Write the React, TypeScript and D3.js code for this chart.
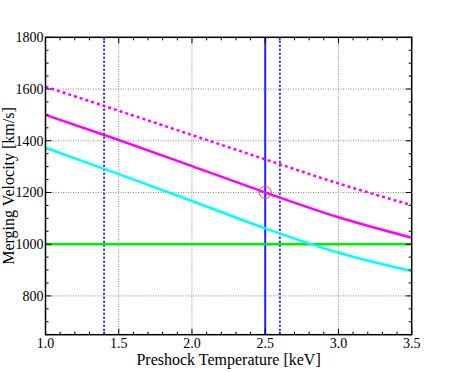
import React, { useEffect, useRef } from 'react';
import * as d3 from 'd3';

// preshock temperature [keV] sample points
const temps = [1.0, 1.5, 2.0, 2.5, 3.0, 3.5];
// merging velocity curves [km/s]
const velUpper = [1609, 1516, 1422, 1328, 1235, 1151];
const velCentral = [1500, 1403, 1302, 1200, 1104, 1025];
const velLower = [1373, 1271, 1167, 1061, 967, 896];
const velSound = [1000, 1000];
const soundTemps = [1.0, 3.5];
// vertical temperature markers
const tempMarks = [1.4, 2.5, 2.6];
const tempMarkDashed = [true, false, true];
const bestPoint = { t: 2.5, v: 1200 };
const xTicks = [1.0, 1.5, 2.0, 2.5, 3.0, 3.5];
const yTicks = [800, 1000, 1200, 1400, 1600, 1800];

export default function App() {
  const ref = useRef<SVGSVGElement>(null);

  useEffect(() => {
    const width = 457;
    const height = 372;
    const m = { top: 37.3, right: 457 - 411.7, bottom: 372 - 334.7, left: 45.5 };

    const svg = d3.select(ref.current);
    svg.selectAll('*').remove();

    const x = d3.scaleLinear().domain([1.0, 3.5]).range([m.left, width - m.right]);
    const y = d3.scaleLinear().domain([650, 1800]).range([height - m.bottom, m.top]);

    svg.append('defs').append('clipPath').attr('id', 'plot-clip')
      .append('rect')
      .attr('x', m.left).attr('y', m.top)
      .attr('width', x(3.5) - x(1.0)).attr('height', y(650) - y(1800));

    // grid
    const grid = svg.append('g')
      .attr('stroke', '#888').attr('stroke-width', 1).attr('stroke-dasharray', '1,1.5');
    grid.selectAll('.gx').data(xTicks.slice(1, -1)).enter().append('line')
      .attr('x1', d => x(d)).attr('x2', d => x(d))
      .attr('y1', y(650)).attr('y2', y(1800));
    grid.selectAll('.gy').data(yTicks.slice(0, -1)).enter().append('line')
      .attr('y1', d => y(d)).attr('y2', d => y(d))
      .attr('x1', x(1.0)).attr('x2', x(3.5));

    const plot = svg.append('g').attr('clip-path', 'url(#plot-clip)');

    // vertical markers
    plot.selectAll('.vmark').data(tempMarks).enter().append('line')
      .attr('x1', d => x(d)).attr('x2', d => x(d))
      .attr('y1', y(650)).attr('y2', y(1800))
      .attr('stroke', '#2222ff')
      .attr('stroke-width', 2)
      .attr('stroke-dasharray', (d, i) => tempMarkDashed[i] ? '2,2' : null);

    const line = d3.line<number>()
      .x((d, i) => x(temps[i]))
      .y(d => y(d))
      .curve(d3.curveMonotoneX);

    plot.append('path')
      .attr('d', d3.line<number>().x((d, i) => x(soundTemps[i])).y(d => y(d))(velSound))
      .attr('fill', 'none').attr('stroke', '#00ee00').attr('stroke-width', 2.5);

    plot.append('path').attr('d', line(velLower))
      .attr('fill', 'none').attr('stroke', '#00ffff').attr('stroke-width', 2.5);

    plot.append('path').attr('d', line(velCentral))
      .attr('fill', 'none').attr('stroke', '#ff00ff').attr('stroke-width', 2.5);

    plot.append('path').attr('d', line(velUpper))
      .attr('fill', 'none').attr('stroke', '#ff00ff').attr('stroke-width', 2.5)
      .attr('stroke-dasharray', '3,3');

    plot.append('circle')
      .attr('cx', x(bestPoint.t)).attr('cy', y(bestPoint.v)).attr('r', 6)
      .attr('fill', 'none').attr('stroke', '#ff4444').attr('stroke-width', 1);

    // frame
    svg.append('rect')
      .attr('x', m.left).attr('y', m.top)
      .attr('width', x(3.5) - x(1.0)).attr('height', y(650) - y(1800))
      .attr('fill', 'none').attr('stroke', '#000').attr('stroke-width', 1.5);

    // ticks, inside on all four sides
    const xMinor = d3.range(10, 36).map(d => d / 10);
    const yMinor = d3.range(650, 1801, 50);
    const ticks = svg.append('g').attr('stroke', '#000').attr('stroke-width', 1);
    xMinor.forEach(t => {
      const len = xTicks.some(v => Math.abs(v - t) < 1e-6) ? 6 : 3;
      ticks.append('line').attr('x1', x(t)).attr('x2', x(t)).attr('y1', y(650)).attr('y2', y(650) - len);
      ticks.append('line').attr('x1', x(t)).attr('x2', x(t)).attr('y1', y(1800)).attr('y2', y(1800) + len);
    });
    yMinor.forEach(v => {
      const len = v % 200 === 0 ? 6 : 3;
      ticks.append('line').attr('y1', y(v)).attr('y2', y(v)).attr('x1', x(1.0)).attr('x2', x(1.0) + len);
      ticks.append('line').attr('y1', y(v)).attr('y2', y(v)).attr('x1', x(3.5)).attr('x2', x(3.5) - len);
    });

    const font = "'Times New Roman', 'Liberation Serif', 'DejaVu Serif', serif";
    svg.append('g').selectAll('text').data(xTicks).enter().append('text')
      .attr('x', d => x(d)).attr('y', 348)
      .attr('text-anchor', 'middle').style('font-family', font).attr('font-size', 14)
      .text(d => d.toFixed(1));
    svg.append('g').selectAll('text').data(yTicks).enter().append('text')
      .attr('x', x(1.0) - 2).attr('y', d => y(d) + 5)
      .attr('text-anchor', 'end').style('font-family', font).attr('font-size', 14)
      .text(d => d);

    svg.append('text')
      .attr('x', (x(1.0) + x(3.5)) / 2).attr('y', 365)
      .attr('text-anchor', 'middle').style('font-family', font).attr('font-size', 16)
      .text('Preshock Temperature [keV]');
    svg.append('text')
      .attr('transform', `translate(14,${(y(650) + y(1800)) / 2}) rotate(-90)`)
      .attr('text-anchor', 'middle').style('font-family', font).attr('font-size', 16)
      .text('Merging Velocity [km/s]');
  }, []);

  return <svg ref={ref} width={457} height={372} style={{ position: 'absolute', left: 0, top: 0 }} />;
}
